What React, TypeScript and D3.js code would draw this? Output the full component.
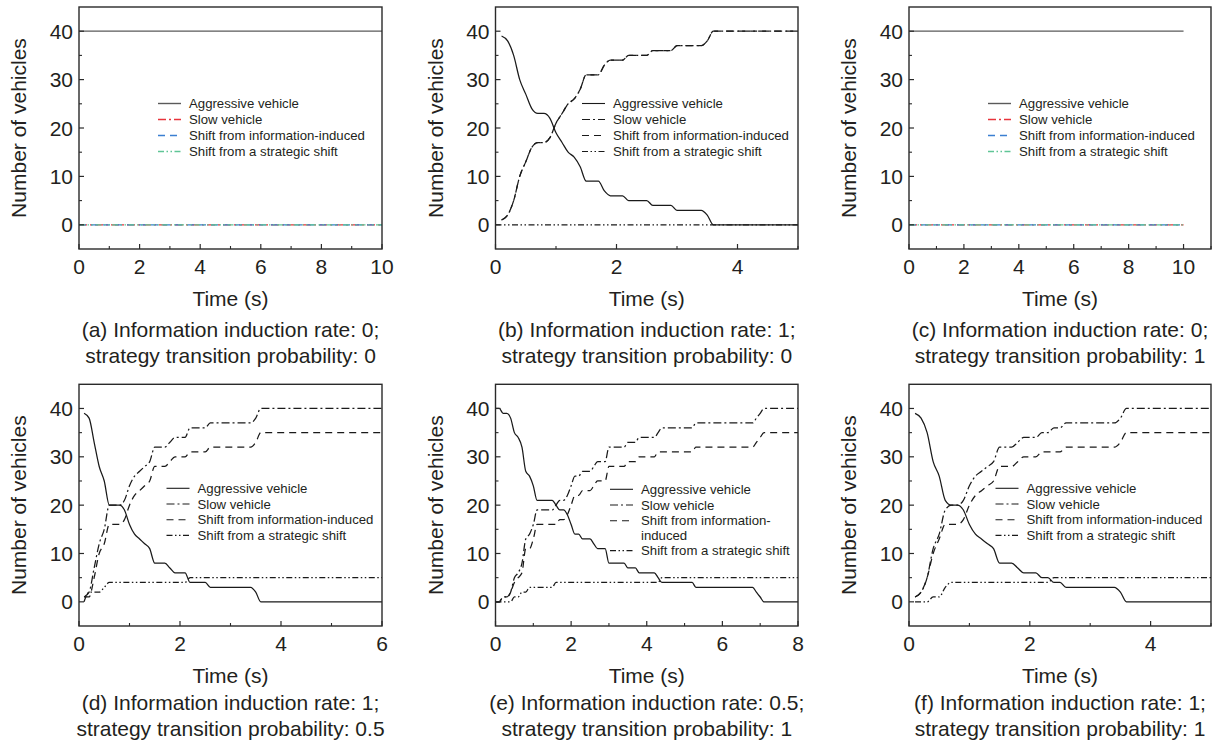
import React from 'react';
import * as d3 from 'd3';

type Pt = [number, number];

// ---------------- DATA ----------------
const seriesNames = [
  'Aggressive vehicle',
  'Slow vehicle',
  'Shift from information-induced',
  'Shift from a strategic shift',
];

const yTicks = [0, 10, 20, 30, 40];
const xLimits = [10, 5, 11, 6, 8, 5];

const captionLine1 = [
  '(a) Information induction rate: 0;',
  '(b) Information induction rate: 1;',
  '(c) Information induction rate: 0;',
  '(d) Information induction rate: 1;',
  '(e) Information induction rate: 0.5;',
  '(f) Information induction rate: 1;',
];
const captionLine2 = [
  'strategy transition probability: 0',
  'strategy transition probability: 0',
  'strategy transition probability: 1',
  'strategy transition probability: 0.5',
  'strategy transition probability: 1',
  'strategy transition probability: 1',
];

// (a)
const aggrA: Pt[] = [[0, 40], [10, 40]];
const slowA: Pt[] = [[0, 0], [10, 0]];
const infoA: Pt[] = [[0, 0], [10, 0]];
const stratA: Pt[] = [[0, 0], [10, 0]];

// (b)
const aggrB: Pt[] = [[0.1, 39], [0.2, 38], [0.3, 35], [0.4, 30], [0.5, 27], [0.6, 24], [0.7, 23], [0.8, 23], [0.9, 22], [1.0, 19], [1.1, 17], [1.2, 15], [1.3, 14], [1.4, 12], [1.5, 9], [1.7, 9], [1.8, 7], [1.9, 6], [2.1, 6], [2.2, 5], [2.5, 5], [2.6, 4], [2.9, 4], [3.0, 3], [3.4, 3], [3.5, 2], [3.6, 0], [5, 0]];
const slowB: Pt[] = [[0.1, 1], [0.2, 2], [0.3, 5], [0.4, 10], [0.5, 13], [0.6, 16], [0.7, 17], [0.8, 17], [0.9, 18], [1.0, 21], [1.1, 23], [1.2, 25], [1.3, 26], [1.4, 28], [1.5, 31], [1.7, 31], [1.8, 33], [1.9, 34], [2.1, 34], [2.2, 35], [2.5, 35], [2.6, 36], [2.9, 36], [3.0, 37], [3.4, 37], [3.5, 38], [3.6, 40], [5, 40]];
const infoB: Pt[] = [[0.1, 1], [0.2, 2], [0.3, 5], [0.4, 10], [0.5, 13], [0.6, 16], [0.7, 17], [0.8, 17], [0.9, 18], [1.0, 21], [1.1, 23], [1.2, 25], [1.3, 26], [1.4, 28], [1.5, 31], [1.7, 31], [1.8, 33], [1.9, 34], [2.1, 34], [2.2, 35], [2.5, 35], [2.6, 36], [2.9, 36], [3.0, 37], [3.4, 37], [3.5, 38], [3.6, 40], [5, 40]];
const stratB: Pt[] = [[0, 0], [5, 0]];

// (c)
const aggrC: Pt[] = [[0, 40], [10, 40]];
const slowC: Pt[] = [[0, 0], [10, 0]];
const infoC: Pt[] = [[0, 0], [10, 0]];
const stratC: Pt[] = [[0, 0], [10, 0]];

// (d)
const aggrD: Pt[] = [[0.1, 39], [0.2, 38], [0.3, 33], [0.4, 28], [0.5, 25], [0.6, 20], [0.8, 20], [0.9, 19], [1.0, 16], [1.1, 14], [1.2, 13], [1.3, 12], [1.4, 11], [1.5, 8], [1.7, 8], [1.8, 7], [1.9, 6], [2.1, 6], [2.2, 4], [2.5, 4], [2.6, 3], [3.4, 3], [3.5, 2], [3.6, 0], [6, 0]];
const slowD: Pt[] = [[0.1, 1], [0.2, 2], [0.3, 7], [0.4, 12], [0.5, 15], [0.6, 20], [0.8, 20], [0.9, 21], [1.0, 24], [1.1, 26], [1.2, 27], [1.3, 28], [1.4, 29], [1.5, 32], [1.7, 32], [1.8, 33], [1.9, 34], [2.1, 34], [2.2, 36], [2.5, 36], [2.6, 37], [3.4, 37], [3.5, 38], [3.6, 40], [6, 40]];
const infoD: Pt[] = [[0.1, 1], [0.2, 1], [0.3, 5], [0.4, 10], [0.5, 12], [0.6, 16], [0.8, 16], [0.9, 17], [1.0, 20], [1.1, 22], [1.2, 23], [1.3, 24], [1.4, 25], [1.5, 28], [1.7, 28], [1.8, 29], [1.9, 30], [2.1, 30], [2.2, 31], [2.5, 31], [2.6, 32], [3.4, 32], [3.5, 33], [3.6, 35], [6, 35]];
const stratD: Pt[] = [[0.1, 0], [0.2, 2], [0.4, 2], [0.5, 3], [0.6, 4], [2.1, 4], [2.2, 5], [6, 5]];

// (e)
const aggrE: Pt[] = [[0, 40], [0.1, 40], [0.2, 39], [0.3, 39], [0.4, 38], [0.5, 35], [0.6, 34], [0.7, 32], [0.8, 27], [0.9, 26], [1.0, 24], [1.1, 21], [1.5, 21], [1.6, 20], [1.7, 19], [1.8, 19], [1.9, 18], [2.0, 16], [2.1, 14], [2.2, 14], [2.3, 13], [2.5, 13], [2.6, 12], [2.7, 11], [2.9, 11], [3.0, 8], [3.4, 8], [3.5, 7], [3.7, 7], [3.8, 6], [4.2, 6], [4.3, 5], [4.4, 4], [5.2, 4], [5.3, 3], [6.8, 3], [6.9, 2], [7.0, 1], [7.1, 0], [8, 0]];
const slowE: Pt[] = [[0, 0], [0.1, 0], [0.2, 1], [0.3, 1], [0.4, 2], [0.5, 5], [0.6, 6], [0.7, 8], [0.8, 13], [0.9, 14], [1.0, 16], [1.1, 19], [1.5, 19], [1.6, 20], [1.7, 21], [1.8, 21], [1.9, 22], [2.0, 24], [2.1, 26], [2.2, 26], [2.3, 27], [2.5, 27], [2.6, 28], [2.7, 29], [2.9, 29], [3.0, 32], [3.4, 32], [3.5, 33], [3.7, 33], [3.8, 34], [4.2, 34], [4.3, 35], [4.4, 36], [5.2, 36], [5.3, 37], [6.8, 37], [6.9, 38], [7.0, 39], [7.1, 40], [8, 40]];
const infoE: Pt[] = [[0, 0], [0.1, 0], [0.2, 1], [0.3, 1], [0.4, 2], [0.5, 4], [0.6, 5], [0.7, 6], [0.8, 11], [0.9, 11], [1.0, 13], [1.1, 16], [1.6, 16], [1.7, 17], [1.8, 17], [1.9, 18], [2.0, 20], [2.1, 22], [2.2, 22], [2.3, 23], [2.5, 23], [2.6, 24], [2.7, 25], [2.9, 25], [3.0, 28], [3.4, 28], [3.5, 29], [3.7, 29], [3.8, 30], [4.2, 30], [4.3, 31], [5.2, 31], [5.3, 32], [6.8, 32], [6.9, 33], [7.0, 34], [7.1, 35], [8, 35]];
const stratE: Pt[] = [[0, 0], [0.4, 0], [0.5, 1], [0.6, 1], [0.7, 2], [0.8, 2], [0.9, 3], [1.5, 3], [1.6, 4], [4.3, 4], [4.4, 5], [8, 5]];

// (f)
const aggrF: Pt[] = [[0.1, 39], [0.2, 38], [0.3, 35], [0.4, 29], [0.5, 26], [0.6, 21], [0.7, 20], [0.8, 20], [0.9, 19], [1.0, 16], [1.1, 14], [1.2, 13], [1.3, 12], [1.4, 11], [1.5, 8], [1.7, 8], [1.8, 7], [1.9, 6], [2.1, 6], [2.2, 5], [2.3, 5], [2.4, 4], [2.5, 4], [2.6, 3], [3.4, 3], [3.5, 2], [3.6, 0], [5, 0]];
const slowF: Pt[] = [[0.1, 1], [0.2, 2], [0.3, 5], [0.4, 11], [0.5, 14], [0.6, 19], [0.7, 20], [0.8, 20], [0.9, 21], [1.0, 24], [1.1, 26], [1.2, 27], [1.3, 28], [1.4, 29], [1.5, 32], [1.7, 32], [1.8, 33], [1.9, 34], [2.1, 34], [2.2, 35], [2.3, 35], [2.4, 36], [2.5, 36], [2.6, 37], [3.4, 37], [3.5, 38], [3.6, 40], [5, 40]];
const infoF: Pt[] = [[0.1, 1], [0.2, 2], [0.3, 5], [0.4, 10], [0.5, 13], [0.6, 16], [0.8, 16], [0.9, 17], [1.0, 20], [1.1, 22], [1.2, 23], [1.3, 24], [1.4, 25], [1.5, 28], [1.7, 28], [1.8, 29], [1.9, 30], [2.1, 30], [2.2, 31], [2.5, 31], [2.6, 32], [3.4, 32], [3.5, 33], [3.6, 35], [5, 35]];
const stratF: Pt[] = [[0.1, 0], [0.3, 0], [0.4, 1], [0.5, 1], [0.6, 3], [0.7, 4], [2.3, 4], [2.4, 5], [5, 5]];

// ---------------- STYLE / LAYOUT ----------------
const FONT = '"Liberation Sans", Arial, Helvetica, sans-serif';
const TEXT = '#231f20';
const DASHES = ['none', '8,3,2,3', '7,5', '6,2.5,1.5,2.5,1.5,2.5'];
const COLOURED = ['#5a5a5a', '#e8343c', '#3b7fd1', '#5fc596'];

const cols = [
  { left: 79, right: 382 },
  { left: 495.5, right: 798 },
  { left: 909, right: 1211 },
];
const rows = [
  { top: 7, bottom: 249, legendDy: 96.5, legendGap: 16, cap1: 337, cap2: 363 },
  { top: 384.3, bottom: 626, legendDy: 104, legendGap: 15.7, cap1: 709.5, cap2: 735.5 },
];

interface PanelDef {
  series: Pt[][];
  coloured: boolean;
  legendDx: number;
  legendWrap: boolean;
  legendDy?: number;
}

const panels: PanelDef[] = [
  { series: [aggrA, slowA, infoA, stratA], coloured: true, legendDx: 79, legendWrap: false },
  { series: [aggrB, slowB, infoB, stratB], coloured: false, legendDx: 86.5, legendWrap: false },
  { series: [aggrC, slowC, infoC, stratC], coloured: true, legendDx: 79, legendWrap: false },
  { series: [aggrD, slowD, infoD, stratD], coloured: false, legendDx: 87.5, legendWrap: false },
  { series: [aggrE, slowE, infoE, stratE], coloured: false, legendDx: 114.5, legendWrap: true, legendDy: 105 },
  { series: [aggrF, slowF, infoF, stratF], coloured: false, legendDx: 86.5, legendWrap: false },
];

function Panel({ idx }: { idx: number }) {
  const p = panels[idx];
  const c = cols[idx % 3];
  const r = rows[Math.floor(idx / 3)];
  const xMax = xLimits[idx];
  const x = d3.scaleLinear().domain([0, xMax]).range([c.left, c.right]);
  const y = d3.scaleLinear().domain([-5, 45]).range([r.bottom, r.top]);
  const line = d3
    .line<Pt>()
    .x((d) => x(d[0]))
    .y((d) => y(d[1]))
    .curve(d3.curveMonotoneX);

  const xMajor = d3.range(0, xMax + 1e-9, 2);
  const xMinor = d3.range(1, xMax + 1e-9, 2);
  const yMinor = yTicks.slice(0, -1).map((t) => t + 5);
  const clipId = `clip-${idx}`;

  const legendX = c.left + p.legendDx;
  const legendY0 = r.top + (p.legendDy ?? r.legendDy);
  const legendRows: { text: string; y: number; sample: number | null }[] = [];
  let ly = legendY0;
  seriesNames.forEach((name, i) => {
    if (p.legendWrap && i === 2) {
      legendRows.push({ text: 'Shift from information-', y: ly, sample: i });
      ly += r.legendGap - 1.5;
      legendRows.push({ text: 'induced', y: ly, sample: null });
      ly += r.legendGap;
    } else {
      legendRows.push({ text: name, y: ly, sample: i });
      ly += r.legendGap;
    }
  });

  const strokeFor = (i: number) => (p.coloured ? COLOURED[i] : '#1a1a1a');
  const cx = (c.left + c.right) / 2;

  return (
    <g>
      <defs>
        <clipPath id={clipId}>
          <rect x={c.left} y={r.top} width={c.right - c.left} height={r.bottom - r.top} />
        </clipPath>
      </defs>
      {/* data lines */}
      <g clipPath={`url(#${clipId})`}>
        {p.series.map((s, i) => (
          <path
            key={i}
            d={line(s) || ''}
            fill="none"
            stroke={strokeFor(i)}
            strokeWidth={p.coloured ? 1.2 : 1.25}
            strokeDasharray={DASHES[i]}
          />
        ))}
      </g>
      {/* frame */}
      <rect
        x={c.left}
        y={r.top}
        width={c.right - c.left}
        height={r.bottom - r.top}
        fill="none"
        stroke="#2a2a2a"
        strokeWidth={1.4}
      />
      {/* x ticks */}
      {xMajor.map((t) => (
        <g key={`xm${t}`}>
          <line x1={x(t)} x2={x(t)} y1={r.bottom} y2={r.bottom - 5} stroke="#2a2a2a" strokeWidth={1.2} />
          <text x={x(t)} y={r.bottom + 24.5} textAnchor="middle" fontSize={21} fill={TEXT} fontFamily={FONT}>
            {t}
          </text>
        </g>
      ))}
      {xMinor.map((t) => (
        <line key={`xn${t}`} x1={x(t)} x2={x(t)} y1={r.bottom} y2={r.bottom - 3} stroke="#2a2a2a" strokeWidth={1.1} />
      ))}
      {/* y ticks */}
      {yTicks.map((t) => (
        <g key={`ym${t}`}>
          <line x1={c.left} x2={c.left + 5} y1={y(t)} y2={y(t)} stroke="#2a2a2a" strokeWidth={1.2} />
          <text x={c.left - 6} y={y(t) + 7.5} textAnchor="end" fontSize={21} fill={TEXT} fontFamily={FONT}>
            {t}
          </text>
        </g>
      ))}
      {yMinor.map((t) => (
        <line key={`yn${t}`} x1={c.left} x2={c.left + 3} y1={y(t)} y2={y(t)} stroke="#2a2a2a" strokeWidth={1.1} />
      ))}
      {/* axis titles */}
      <text x={cx} y={r.bottom + 56.5} textAnchor="middle" fontSize={21} fill={TEXT} fontFamily={FONT}>
        Time (s)
      </text>
      <text
        transform={`translate(${c.left - 53},${(r.top + r.bottom) / 2}) rotate(-90)`}
        textAnchor="middle"
        fontSize={21}
        fill={TEXT}
        fontFamily={FONT}
      >
        Number of vehicles
      </text>
      {/* legend */}
      {legendRows.map((lr, k) => (
        <g key={`lg${k}`}>
          {lr.sample !== null && (
            <line
              x1={legendX}
              x2={legendX + 23}
              y1={lr.y}
              y2={lr.y}
              stroke={strokeFor(lr.sample)}
              strokeWidth={p.coloured ? 1.4 : 1.1}
              strokeDasharray={DASHES[lr.sample]}
            />
          )}
          <text x={legendX + 31} y={lr.y + 4.6} fontSize={13.2} fill={TEXT} fontFamily={FONT}>
            {lr.text}
          </text>
        </g>
      ))}
      {/* caption */}
      <text x={cx} y={r.cap1} textAnchor="middle" fontSize={21} fill={TEXT} fontFamily={FONT}>
        {captionLine1[idx]}
      </text>
      <text x={cx} y={r.cap2} textAnchor="middle" fontSize={21} fill={TEXT} fontFamily={FONT}>
        {captionLine2[idx]}
      </text>
    </g>
  );
}

export default function App() {
  return (
    <svg
      width={1215}
      height={746}
      viewBox="0 0 1215 746"
      style={{ position: 'absolute', left: 0, top: 0, background: '#fff' }}
    >
      <rect x={0} y={0} width={1215} height={746} fill="#fff" />
      {panels.map((_, i) => (
        <Panel key={i} idx={i} />
      ))}
    </svg>
  );
}
